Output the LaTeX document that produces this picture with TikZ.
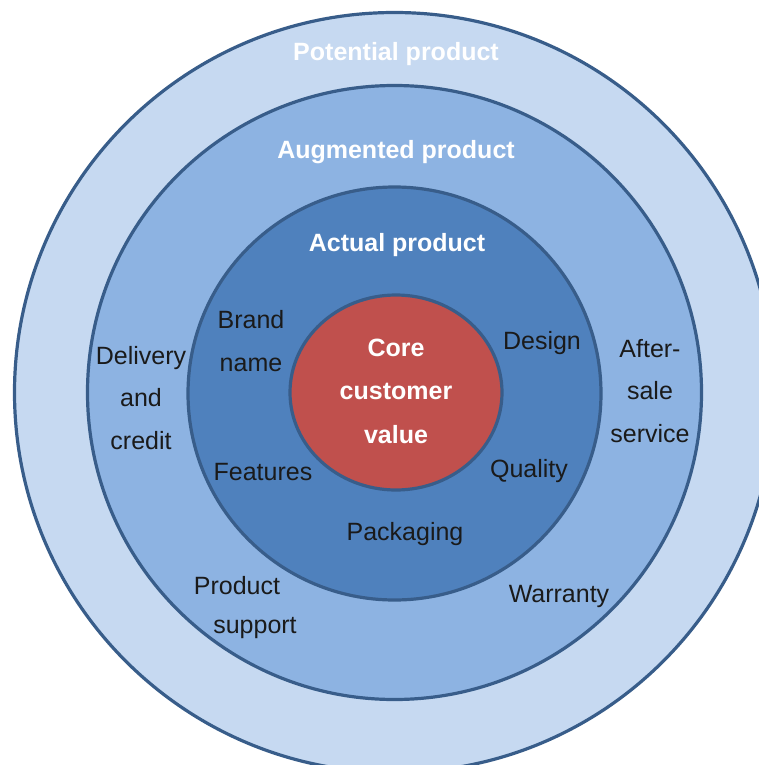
\documentclass[tikz,border=0pt]{standalone}
\usepackage{fontspec}
\setmainfont{Liberation Sans}
\definecolor{ringA}{HTML}{C6D9F1}
\definecolor{ringB}{HTML}{8DB3E2}
\definecolor{ringC}{HTML}{4F81BD}
\definecolor{corered}{HTML}{C0504D}
\definecolor{edgeblue}{HTML}{385D8A}
\definecolor{lbltext}{HTML}{1A1A1A}
\begin{document}
\begin{tikzpicture}[x=1pt,y=-1pt,
  ring/.style={draw=edgeblue, line width=3.2pt},
  title/.style={font=\fontsize{25}{30}\selectfont\bfseries, text=white, inner sep=0pt},
  lbl/.style={font=\fontsize{25}{42.5}\selectfont, text=lbltext, align=center, inner sep=0pt}]
\useasboundingbox (0,0) rectangle (759,765);
\clip (0,0) rectangle (759,765);
\fill[white] (0,0) rectangle (759,765);
\draw[ring, fill=ringA] (394.5,392.5) circle[radius=380pt];
\draw[ring, fill=ringB] (394.5,392.5) circle[radius=307pt];
\draw[ring, fill=ringC] (394.5,393.5) circle[radius=206.5pt];
\draw[ring, fill=corered] (396,392.5) ellipse[x radius=106pt, y radius=97.5pt];
\node[title] (pot) at (396,54) {Potential product};
\node[title] (aug) at (396,152) {Augmented product};
\node[title] (act) at (397,245) {Actual product};
\node[title, align=center, font=\fontsize{25}{43.5}\selectfont\bfseries] (core) at (396,391) {Core\\customer\\value};
\node[lbl] (brand) at (251,341) {Brand\\name};
\node[lbl] (design) at (542,343) {Design};
\node[lbl] (features) at (263,472) {Features};
\node[lbl] (quality) at (529,471) {Quality};
\node[lbl] (packaging) at (405,534) {Packaging};
\node[lbl] (delivery) at (141,398) {Delivery\\and\\credit};
\node[lbl] (after) at (650,391) {After-\\sale\\service};
\node[lbl] (product) at (237,586) {Product};
\node[lbl] (support) at (255,628) {support};
\node[lbl] (warranty) at (559,596) {Warranty};
\end{tikzpicture}
\end{document}
